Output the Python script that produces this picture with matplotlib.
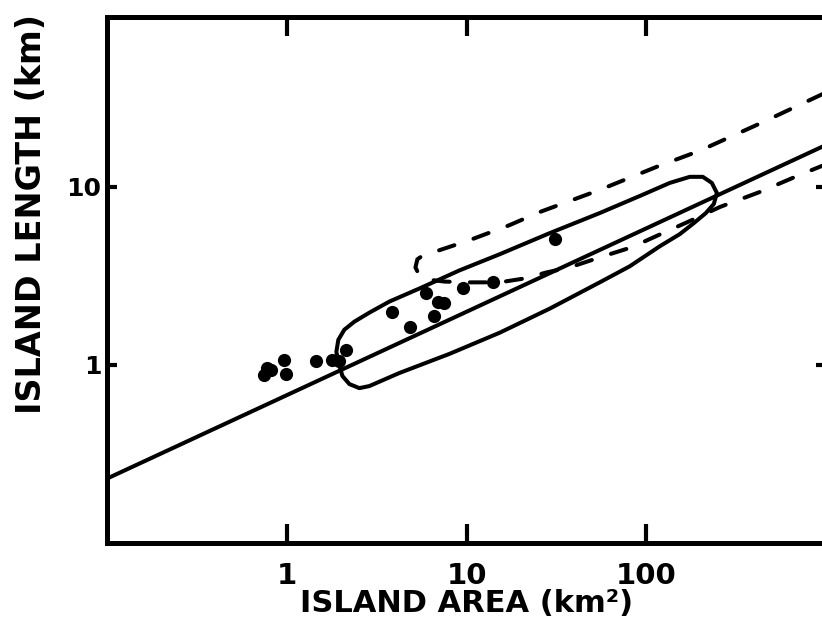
import matplotlib
matplotlib.use("Agg")
import matplotlib.pyplot as plt

# island data
area = [0.745, 0.774, 0.815, 0.962, 0.987, 1.45, 1.78, 1.95, 2.13,
        3.85, 4.84, 5.95, 6.94, 7.49, 6.59, 9.56, 14.1, 31.1]
length = [0.878, 0.962, 0.937, 1.067, 0.889, 1.053, 1.067, 1.053, 1.215,
          1.99, 1.64, 2.52, 2.27, 2.24, 1.89, 2.69, 2.94, 5.08]

# regression line end points
fit_area = [0.1, 1000]
fit_length = [0.23, 17.2]

# solid envelope
env_area = [1.96, 1.888, 1.936, 2.091, 2.377, 2.882, 3.724, 5.473, 9.14, 15.27,
            29.0, 55.1, 92.0, 135.2, 174.7, 206.4, 231.7, 247.1, 237.7, 214.6,
            183.9, 153.7, 118.9, 80.9, 55.1, 29.0, 15.27, 8.04, 4.23,
            2.88, 2.535, 2.23, 2.04, 1.96]
env_length = [1.00, 1.184, 1.384, 1.577, 1.750, 1.967, 2.270, 2.688, 3.397, 4.183,
              5.497, 7.13, 8.89, 10.53, 11.39, 11.39, 10.53, 9.25, 8.02, 7.13,
              6.26, 5.43, 4.64, 3.58, 2.91, 2.07, 1.516, 1.154, 0.901,
              0.761, 0.741, 0.781, 0.867, 1.00]

# dashed envelope
dash_area = [1000, 950, 429, 198.6, 114.4, 55.1, 25.5, 17.36, 10.39, 7.07, 5.83,
             5.33, 5.20, 5.47, 6.06, 7.54, 10.39, 15.27, 21.0, 27.9, 37.5, 55.1,
             83.0, 123.6, 174.7, 256.8, 429, 716, 1000]
dash_length = [34.0, 33.1, 22.7, 15.97, 12.97, 9.62, 7.22, 6.10, 5.02, 4.41, 4.18,
               3.92, 3.53, 3.18, 3.02, 2.94, 2.91, 2.91, 3.06, 3.31, 3.53, 4.02,
               4.58, 5.50, 6.43, 7.71, 9.37, 11.69, 13.4]

plt.rcParams['font.family'] = ['DejaVu Sans']
plt.rcParams['font.weight'] = 'bold'

fig = plt.figure(figsize=(8.22, 6.17), dpi=100)
ax = fig.add_axes([107/822, 74/617, 719/822, 526/617])

ax.plot(fit_area, fit_length, color='black', lw=2.9, solid_capstyle='butt')
ax.plot(env_area, env_length, color='black', lw=2.9, solid_joinstyle='round')
ax.plot(dash_area, dash_length, color='black', lw=2.9, dashes=(4, 5),
        dash_capstyle='round')
ax.plot(area, length, 'o', color='black', ms=9.5, mew=0)

ax.set_xscale('log')
ax.set_yscale('log')
ax.set_xlim(0.1, 1000)
ax.set_ylim(0.1, 90)

ax.set_xticks([1, 10, 100])
ax.set_xticklabels(['1', '10', '100'])
ax.set_yticks([1, 10])
ax.set_yticklabels(['1', '10'])
ax.minorticks_off()

ax.tick_params(axis='x', which='major', direction='in', top=True, length=14,
               width=3, labelsize=21, pad=14)
ax.tick_params(axis='y', which='major', direction='in', right=True, length=7,
               width=3, labelsize=18, pad=4)

for s in ax.spines.values():
    s.set_linewidth(3.6)

ax.set_xlabel('ISLAND AREA (km²)', fontsize=22, fontweight='bold', labelpad=-1)
ax.set_ylabel('ISLAND LENGTH (km)', fontsize=24, fontweight='bold')
ax.yaxis.set_label_coords(-0.082, 0.626)

fig.savefig('out.png', dpi=100)
